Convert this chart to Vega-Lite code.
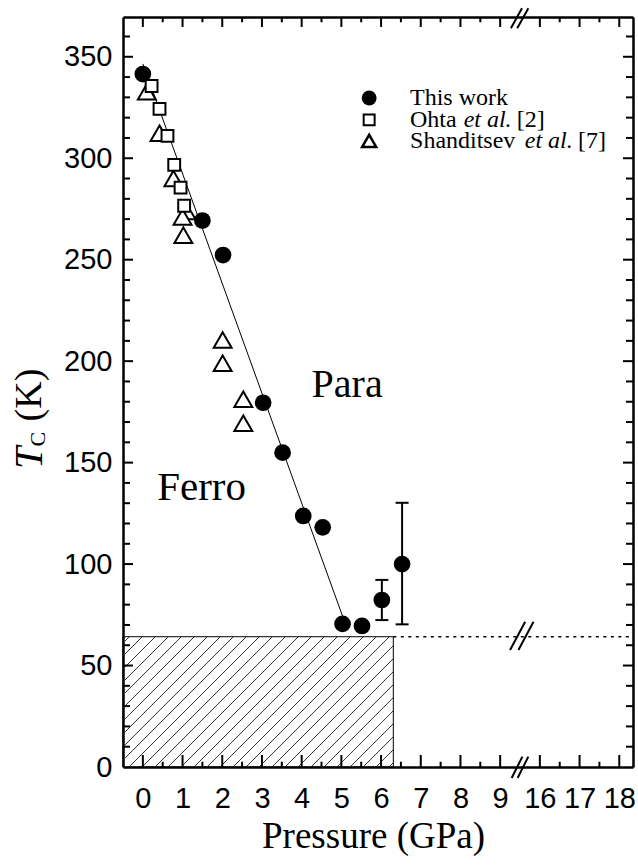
{
 "$schema": "https://vega.github.io/schema/vega-lite/v6.json",
 "width": 510, "height": 750,
 "autosize": {"type": "none"},
 "padding": {"left": 123, "top": 17, "right": 5, "bottom": 100},
 "background": "white",
 "config": {"view": {"stroke": null},
  "axis": {"domainColor": "black", "domainWidth": 2.5, "labelFont": "Liberation Sans", "labelFontSize": 29, "labelColor": "black", "titleColor": "black", "labelFlush": false, "labelOverlap": false}},
 "datasets": {
  "thiswork": [
   {"p": 0.0, "tc": 341.5}, {"p": 1.5, "tc": 269.3}, {"p": 2.02, "tc": 252.3}, {"p": 3.03, "tc": 179.5},
   {"p": 3.52, "tc": 154.9}, {"p": 4.04, "tc": 123.7}, {"p": 4.53, "tc": 118.1}, {"p": 5.03, "tc": 70.5},
   {"p": 5.52, "tc": 69.5}, {"p": 6.02, "tc": 82.3, "lo": 72.4, "hi": 92.2}, {"p": 6.53, "tc": 100.0, "lo": 70.3, "hi": 130.2}],
  "ohta": [
   {"p": 0.22, "tc": 335.6}, {"p": 0.42, "tc": 324.3}, {"p": 0.62, "tc": 311.0}, {"p": 0.79, "tc": 296.7},
   {"p": 0.95, "tc": 285.5}, {"p": 1.04, "tc": 276.6}],
  "shanditsev": [
   {"p": 0.1, "tc": 332.8}, {"p": 0.42, "tc": 312.3}, {"p": 0.77, "tc": 290.0}, {"p": 1.1, "tc": 273.7},
   {"p": 1.0, "tc": 271.0}, {"p": 1.02, "tc": 262.0}, {"p": 2.01, "tc": 210.4}, {"p": 2.01, "tc": 199.0},
   {"p": 2.53, "tc": 181.2}, {"p": 2.53, "tc": 169.4}],
  "xmaj": [{"v": 0}, {"v": 1}, {"v": 2}, {"v": 3}, {"v": 4}, {"v": 5}, {"v": 6}, {"v": 7}, {"v": 8}, {"v": 9}, {"v": 10}, {"v": 11}, {"v": 12}],
  "xmin": [{"v": 0.5}, {"v": 1.5}, {"v": 2.5}, {"v": 3.5}, {"v": 4.5}, {"v": 5.5}, {"v": 6.5}, {"v": 7.5}, {"v": 8.5}, {"v": 10.5}, {"v": 11.5}],
  "ymaj": [{"v": 50}, {"v": 100}, {"v": 150}, {"v": 200}, {"v": 250}, {"v": 300}, {"v": 350}],
  "ymin": [{"v": 10}, {"v": 20}, {"v": 30}, {"v": 40}, {"v": 60}, {"v": 70}, {"v": 80}, {"v": 90}, {"v": 110}, {"v": 120}, {"v": 130}, {"v": 140}, {"v": 160}, {"v": 170}, {"v": 180}, {"v": 190}, {"v": 210}, {"v": 220}, {"v": 230}, {"v": 240}, {"v": 260}, {"v": 270}, {"v": 280}, {"v": 290}, {"v": 310}, {"v": 320}, {"v": 330}, {"v": 340}, {"v": 360}],
  "hatch": [
   {"x1": -0.5, "y1": 61.1, "x2": -0.341, "y2": 64.2}, {"x1": -0.5, "y1": 54.7, "x2": -0.014, "y2": 64.2},
   {"x1": -0.5, "y1": 48.3, "x2": 0.314, "y2": 64.2}, {"x1": -0.5, "y1": 41.9, "x2": 0.641, "y2": 64.2},
   {"x1": -0.5, "y1": 35.5, "x2": 0.969, "y2": 64.2}, {"x1": -0.5, "y1": 29.1, "x2": 1.296, "y2": 64.2},
   {"x1": -0.5, "y1": 22.7, "x2": 1.623, "y2": 64.2}, {"x1": -0.5, "y1": 16.3, "x2": 1.951, "y2": 64.2},
   {"x1": -0.5, "y1": 9.9, "x2": 2.278, "y2": 64.2}, {"x1": -0.5, "y1": 3.4, "x2": 2.606, "y2": 64.2},
   {"x1": -0.349, "y1": 0, "x2": 2.933, "y2": 64.2}, {"x1": -0.021, "y1": 0, "x2": 3.261, "y2": 64.2},
   {"x1": 0.306, "y1": 0, "x2": 3.588, "y2": 64.2}, {"x1": 0.633, "y1": 0, "x2": 3.916, "y2": 64.2},
   {"x1": 0.961, "y1": 0, "x2": 4.243, "y2": 64.2}, {"x1": 1.288, "y1": 0, "x2": 4.571, "y2": 64.2},
   {"x1": 1.616, "y1": 0, "x2": 4.898, "y2": 64.2}, {"x1": 1.943, "y1": 0, "x2": 5.225, "y2": 64.2},
   {"x1": 2.271, "y1": 0, "x2": 5.553, "y2": 64.2}, {"x1": 2.598, "y1": 0, "x2": 5.88, "y2": 64.2},
   {"x1": 2.926, "y1": 0, "x2": 6.208, "y2": 64.2}, {"x1": 3.253, "y1": 0, "x2": 6.309, "y2": 59.8},
   {"x1": 3.581, "y1": 0, "x2": 6.309, "y2": 53.4}, {"x1": 3.908, "y1": 0, "x2": 6.309, "y2": 47.0},
   {"x1": 4.236, "y1": 0, "x2": 6.309, "y2": 40.6}, {"x1": 4.563, "y1": 0, "x2": 6.309, "y2": 34.2},
   {"x1": 4.891, "y1": 0, "x2": 6.309, "y2": 27.7}, {"x1": 5.218, "y1": 0, "x2": 6.309, "y2": 21.3},
   {"x1": 5.546, "y1": 0, "x2": 6.309, "y2": 14.9}, {"x1": 5.873, "y1": 0, "x2": 6.309, "y2": 8.5},
   {"x1": 6.201, "y1": 0, "x2": 6.309, "y2": 2.1}],
  "breaks": [
   {"x1": 9.29, "y1": -5.4, "x2": 9.56, "y2": 5.1}, {"x1": 9.44, "y1": -5.4, "x2": 9.71, "y2": 5.1},
   {"x1": 9.27, "y1": 364.1, "x2": 9.55, "y2": 373.9}, {"x1": 9.43, "y1": 364.1, "x2": 9.71, "y2": 373.9},
   {"x1": 9.25, "y1": 57.7, "x2": 9.63, "y2": 71.6}, {"x1": 9.46, "y1": 57.7, "x2": 9.84, "y2": 71.6}]
 },
 "resolve": {"axis": {"x": "independent", "y": "independent"}},
 "layer": [
  {"data": {"name": "hatch"}, "mark": {"type": "rule", "color": "#333", "strokeWidth": 1},
   "encoding": {
    "x": {"field": "x1", "type": "quantitative", "scale": {"domain": [-0.5, 12.346], "nice": false, "zero": false},
     "axis": {"orient": "bottom", "values": [0,1,2,3,4,5,6,7,8,9,10,11,12], "labelExpr": "datum.value >= 10 ? '' + (datum.value + 6) : datum.label", "ticks": false, "domain": true, "grid": false, "labelPadding": 17, "title": "Pressure (GPa)", "titleFont": "Liberation Serif", "titleFontSize": 37, "titleFontWeight": "normal", "titlePadding": 5, "titleX": 250}},
    "y": {"field": "y1", "type": "quantitative", "scale": {"domain": [0, 369.6], "nice": false, "zero": false},
     "axis": {"orient": "left", "values": [0,50,100,150,200,250,300,350], "ticks": false, "domain": true, "grid": false, "labelPadding": 11, "title": null}},
    "x2": {"field": "x2"}, "y2": {"field": "y2"}}},
  {"data": {"values": [{}]}, "mark": {"type": "rect", "filled": false, "color": "black", "strokeWidth": 1},
   "encoding": {
    "x": {"datum": -0.5, "type": "quantitative", "scale": {"domain": [-0.5, 12.346], "nice": false, "zero": false}, "axis": null},
    "x2": {"datum": 6.309},
    "y": {"datum": 0, "type": "quantitative", "scale": {"domain": [0, 369.6], "nice": false, "zero": false}, "axis": null},
    "y2": {"datum": 64.2}}},
  {"data": {"values": [{}]}, "mark": {"type": "rule", "color": "black", "strokeWidth": 1.5, "strokeDash": [3, 4.5]},
   "encoding": {
    "x": {"datum": 6.309, "type": "quantitative", "scale": {"domain": [-0.5, 12.346], "nice": false, "zero": false}, "axis": null},
    "x2": {"datum": 12.346},
    "y": {"datum": 64.2, "type": "quantitative", "scale": {"domain": [0, 369.6], "nice": false, "zero": false}, "axis": null}}},
  {"data": {"values": [{}]}, "mark": {"type": "rule", "color": "black", "strokeWidth": 1},
   "encoding": {
    "x": {"datum": 0.0, "type": "quantitative", "scale": {"domain": [-0.5, 12.346], "nice": false, "zero": false},
     "axis": {"orient": "top", "ticks": false, "labels": false, "domain": true, "grid": false, "title": null}},
    "x2": {"datum": 5.05},
    "y": {"datum": 346.5, "type": "quantitative", "scale": {"domain": [0, 369.6], "nice": false, "zero": false},
     "axis": {"orient": "right", "ticks": false, "labels": false, "domain": true, "grid": false, "title": null}},
    "y2": {"datum": 73.3}}},
  {"data": {"name": "xmaj"}, "mark": {"type": "rule", "color": "black", "strokeWidth": 2},
   "encoding": {
    "x": {"field": "v", "type": "quantitative", "scale": {"domain": [-0.5, 12.346], "nice": false, "zero": false}, "axis": null},
    "y": {"datum": 0, "type": "quantitative", "scale": {"domain": [0, 369.6], "nice": false, "zero": false}, "axis": null},
    "y2": {"datum": 5.9}}},
  {"data": {"name": "xmaj"}, "mark": {"type": "rule", "color": "black", "strokeWidth": 2},
   "encoding": {
    "x": {"field": "v", "type": "quantitative", "scale": {"domain": [-0.5, 12.346], "nice": false, "zero": false}, "axis": null},
    "y": {"datum": 369.6, "type": "quantitative", "scale": {"domain": [0, 369.6], "nice": false, "zero": false}, "axis": null},
    "y2": {"datum": 364.7}}},
  {"data": {"name": "xmin"}, "mark": {"type": "rule", "color": "black", "strokeWidth": 2},
   "encoding": {
    "x": {"field": "v", "type": "quantitative", "scale": {"domain": [-0.5, 12.346], "nice": false, "zero": false}, "axis": null},
    "y": {"datum": 0, "type": "quantitative", "scale": {"domain": [0, 369.6], "nice": false, "zero": false}, "axis": null},
    "y2": {"datum": 2.6}}},
  {"data": {"name": "xmin"}, "mark": {"type": "rule", "color": "black", "strokeWidth": 2},
   "encoding": {
    "x": {"field": "v", "type": "quantitative", "scale": {"domain": [-0.5, 12.346], "nice": false, "zero": false}, "axis": null},
    "y": {"datum": 369.6, "type": "quantitative", "scale": {"domain": [0, 369.6], "nice": false, "zero": false}, "axis": null},
    "y2": {"datum": 367.0}}},
  {"data": {"name": "ymaj"}, "mark": {"type": "rule", "color": "black", "strokeWidth": 2},
   "encoding": {
    "y": {"field": "v", "type": "quantitative", "scale": {"domain": [0, 369.6], "nice": false, "zero": false}, "axis": null},
    "x": {"datum": -0.5, "type": "quantitative", "scale": {"domain": [-0.5, 12.346], "nice": false, "zero": false}, "axis": null},
    "x2": {"datum": -0.248}}},
  {"data": {"name": "ymaj"}, "mark": {"type": "rule", "color": "black", "strokeWidth": 2},
   "encoding": {
    "y": {"field": "v", "type": "quantitative", "scale": {"domain": [0, 369.6], "nice": false, "zero": false}, "axis": null},
    "x": {"datum": 12.346, "type": "quantitative", "scale": {"domain": [-0.5, 12.346], "nice": false, "zero": false}, "axis": null},
    "x2": {"datum": 12.094}}},
  {"data": {"name": "ymin"}, "mark": {"type": "rule", "color": "black", "strokeWidth": 2},
   "encoding": {
    "y": {"field": "v", "type": "quantitative", "scale": {"domain": [0, 369.6], "nice": false, "zero": false}, "axis": null},
    "x": {"datum": -0.5, "type": "quantitative", "scale": {"domain": [-0.5, 12.346], "nice": false, "zero": false}, "axis": null},
    "x2": {"datum": -0.324}}},
  {"data": {"name": "ymin"}, "mark": {"type": "rule", "color": "black", "strokeWidth": 2},
   "encoding": {
    "y": {"field": "v", "type": "quantitative", "scale": {"domain": [0, 369.6], "nice": false, "zero": false}, "axis": null},
    "x": {"datum": 12.346, "type": "quantitative", "scale": {"domain": [-0.5, 12.346], "nice": false, "zero": false}, "axis": null},
    "x2": {"datum": 12.17}}},
  {"data": {"name": "breaks"}, "mark": {"type": "rule", "color": "black", "strokeWidth": 2},
   "encoding": {
    "x": {"field": "x1", "type": "quantitative", "scale": {"domain": [-0.5, 12.346], "nice": false, "zero": false}, "axis": null},
    "y": {"field": "y1", "type": "quantitative", "scale": {"domain": [0, 369.6], "nice": false, "zero": false}, "axis": null},
    "x2": {"field": "x2"}, "y2": {"field": "y2"}}},
  {"data": {"name": "shanditsev"}, "mark": {"type": "point", "shape": "triangle-up", "filled": true, "fill": "white", "stroke": "black", "strokeWidth": 2, "size": 320, "opacity": 1},
   "encoding": {
    "x": {"field": "p", "type": "quantitative", "scale": {"domain": [-0.5, 12.346], "nice": false, "zero": false}, "axis": null},
    "y": {"field": "tc", "type": "quantitative", "scale": {"domain": [0, 369.6], "nice": false, "zero": false}, "axis": null}}},
  {"data": {"name": "ohta"}, "mark": {"type": "point", "shape": "square", "filled": true, "fill": "white", "stroke": "black", "strokeWidth": 2, "size": 140, "opacity": 1},
   "encoding": {
    "x": {"field": "p", "type": "quantitative", "scale": {"domain": [-0.5, 12.346], "nice": false, "zero": false}, "axis": null},
    "y": {"field": "tc", "type": "quantitative", "scale": {"domain": [0, 369.6], "nice": false, "zero": false}, "axis": null}}},
  {"data": {"name": "thiswork"}, "transform": [{"filter": "datum.hi != null"}],
   "mark": {"type": "rule", "color": "black", "strokeWidth": 2},
   "encoding": {
    "x": {"field": "p", "type": "quantitative", "scale": {"domain": [-0.5, 12.346], "nice": false, "zero": false}, "axis": null},
    "y": {"field": "lo", "type": "quantitative", "scale": {"domain": [0, 369.6], "nice": false, "zero": false}, "axis": null},
    "y2": {"field": "hi"}}},
  {"data": {"name": "thiswork"}, "transform": [{"filter": "datum.hi != null"}],
   "mark": {"type": "point", "shape": "M-1,0L1,0", "filled": false, "color": "black", "strokeWidth": 2, "size": 169, "opacity": 1},
   "encoding": {
    "x": {"field": "p", "type": "quantitative", "scale": {"domain": [-0.5, 12.346], "nice": false, "zero": false}, "axis": null},
    "y": {"field": "lo", "type": "quantitative", "scale": {"domain": [0, 369.6], "nice": false, "zero": false}, "axis": null}}},
  {"data": {"name": "thiswork"}, "transform": [{"filter": "datum.hi != null"}],
   "mark": {"type": "point", "shape": "M-1,0L1,0", "filled": false, "color": "black", "strokeWidth": 2, "size": 169, "opacity": 1},
   "encoding": {
    "x": {"field": "p", "type": "quantitative", "scale": {"domain": [-0.5, 12.346], "nice": false, "zero": false}, "axis": null},
    "y": {"field": "hi", "type": "quantitative", "scale": {"domain": [0, 369.6], "nice": false, "zero": false}, "axis": null}}},
  {"data": {"name": "thiswork"}, "mark": {"type": "point", "shape": "circle", "filled": true, "color": "black", "size": 280, "opacity": 1},
   "encoding": {
    "x": {"field": "p", "type": "quantitative", "scale": {"domain": [-0.5, 12.346], "nice": false, "zero": false}, "axis": null},
    "y": {"field": "tc", "type": "quantitative", "scale": {"domain": [0, 369.6], "nice": false, "zero": false}, "axis": null}}},
  {"data": {"values": [{}]}, "mark": {"type": "point", "shape": "circle", "filled": true, "color": "black", "size": 220, "opacity": 1},
   "encoding": {
    "x": {"datum": 5.70, "type": "quantitative", "scale": {"domain": [-0.5, 12.346], "nice": false, "zero": false}, "axis": null},
    "y": {"datum": 329.7, "type": "quantitative", "scale": {"domain": [0, 369.6], "nice": false, "zero": false}, "axis": null}}},
  {"data": {"values": [{}]}, "mark": {"type": "point", "shape": "square", "filled": true, "fill": "white", "stroke": "black", "strokeWidth": 2, "size": 120, "opacity": 1},
   "encoding": {
    "x": {"datum": 5.70, "type": "quantitative", "scale": {"domain": [-0.5, 12.346], "nice": false, "zero": false}, "axis": null},
    "y": {"datum": 318.9, "type": "quantitative", "scale": {"domain": [0, 369.6], "nice": false, "zero": false}, "axis": null}}},
  {"data": {"values": [{}]}, "mark": {"type": "point", "shape": "triangle-up", "filled": true, "fill": "white", "stroke": "black", "strokeWidth": 2.5, "size": 200, "opacity": 1},
   "encoding": {
    "x": {"datum": 5.70, "type": "quantitative", "scale": {"domain": [-0.5, 12.346], "nice": false, "zero": false}, "axis": null},
    "y": {"datum": 308.5, "type": "quantitative", "scale": {"domain": [0, 369.6], "nice": false, "zero": false}, "axis": null}}},
  {"data": {"values": [{}]}, "mark": {"type": "text", "text": "This work", "font": "Liberation Serif", "fontSize": 24, "align": "left", "baseline": "alphabetic", "color": "black"},
   "encoding": {
    "x": {"datum": 6.73, "type": "quantitative", "scale": {"domain": [-0.5, 12.346], "nice": false, "zero": false}, "axis": null},
    "y": {"datum": 326.3, "type": "quantitative", "scale": {"domain": [0, 369.6], "nice": false, "zero": false}, "axis": null}}},
  {"data": {"values": [{}]}, "mark": {"type": "text", "text": "Ohta", "font": "Liberation Serif", "fontSize": 24, "align": "left", "baseline": "alphabetic", "color": "black"},
   "encoding": {
    "x": {"datum": 6.73, "type": "quantitative", "scale": {"domain": [-0.5, 12.346], "nice": false, "zero": false}, "axis": null},
    "y": {"datum": 315.6, "type": "quantitative", "scale": {"domain": [0, 369.6], "nice": false, "zero": false}, "axis": null}}},
  {"data": {"values": [{}]}, "mark": {"type": "text", "text": "et al.", "font": "Liberation Serif", "fontStyle": "italic", "fontSize": 24, "align": "left", "baseline": "alphabetic", "color": "black"},
   "encoding": {
    "x": {"datum": 8.08, "type": "quantitative", "scale": {"domain": [-0.5, 12.346], "nice": false, "zero": false}, "axis": null},
    "y": {"datum": 315.6, "type": "quantitative", "scale": {"domain": [0, 369.6], "nice": false, "zero": false}, "axis": null}}},
  {"data": {"values": [{}]}, "mark": {"type": "text", "text": "[2]", "font": "Liberation Serif", "fontSize": 24, "align": "left", "baseline": "alphabetic", "color": "black"},
   "encoding": {
    "x": {"datum": 9.42, "type": "quantitative", "scale": {"domain": [-0.5, 12.346], "nice": false, "zero": false}, "axis": null},
    "y": {"datum": 315.6, "type": "quantitative", "scale": {"domain": [0, 369.6], "nice": false, "zero": false}, "axis": null}}},
  {"data": {"values": [{}]}, "mark": {"type": "text", "text": "Shanditsev", "font": "Liberation Serif", "fontSize": 24, "align": "left", "baseline": "alphabetic", "color": "black"},
   "encoding": {
    "x": {"datum": 6.73, "type": "quantitative", "scale": {"domain": [-0.5, 12.346], "nice": false, "zero": false}, "axis": null},
    "y": {"datum": 305.2, "type": "quantitative", "scale": {"domain": [0, 369.6], "nice": false, "zero": false}, "axis": null}}},
  {"data": {"values": [{}]}, "mark": {"type": "text", "text": "et al.", "font": "Liberation Serif", "fontStyle": "italic", "fontSize": 24, "align": "left", "baseline": "alphabetic", "color": "black"},
   "encoding": {
    "x": {"datum": 9.62, "type": "quantitative", "scale": {"domain": [-0.5, 12.346], "nice": false, "zero": false}, "axis": null},
    "y": {"datum": 305.2, "type": "quantitative", "scale": {"domain": [0, 369.6], "nice": false, "zero": false}, "axis": null}}},
  {"data": {"values": [{}]}, "mark": {"type": "text", "text": "[7]", "font": "Liberation Serif", "fontSize": 24, "align": "left", "baseline": "alphabetic", "color": "black"},
   "encoding": {
    "x": {"datum": 10.96, "type": "quantitative", "scale": {"domain": [-0.5, 12.346], "nice": false, "zero": false}, "axis": null},
    "y": {"datum": 305.2, "type": "quantitative", "scale": {"domain": [0, 369.6], "nice": false, "zero": false}, "axis": null}}},
  {"data": {"values": [{}]}, "mark": {"type": "text", "text": "Para", "font": "Liberation Serif", "fontSize": 40, "align": "left", "baseline": "alphabetic", "color": "black"},
   "encoding": {
    "x": {"datum": 4.25, "type": "quantitative", "scale": {"domain": [-0.5, 12.346], "nice": false, "zero": false}, "axis": null},
    "y": {"datum": 182.4, "type": "quantitative", "scale": {"domain": [0, 369.6], "nice": false, "zero": false}, "axis": null}}},
  {"data": {"values": [{}]}, "mark": {"type": "text", "text": "Ferro", "font": "Liberation Serif", "fontSize": 41, "align": "left", "baseline": "alphabetic", "color": "black"},
   "encoding": {
    "x": {"datum": 0.36, "type": "quantitative", "scale": {"domain": [-0.5, 12.346], "nice": false, "zero": false}, "axis": null},
    "y": {"datum": 131.6, "type": "quantitative", "scale": {"domain": [0, 369.6], "nice": false, "zero": false}, "axis": null}}},
  {"data": {"values": [{}]}, "mark": {"type": "text", "text": "T", "font": "Liberation Serif", "fontStyle": "italic", "fontSize": 40, "angle": 270, "align": "center", "baseline": "middle", "color": "black"},
   "encoding": {
    "x": {"datum": -2.843, "type": "quantitative", "scale": {"domain": [-0.5, 12.346], "nice": false, "zero": false}, "axis": null},
    "y": {"datum": 152.3, "type": "quantitative", "scale": {"domain": [0, 369.6], "nice": false, "zero": false}, "axis": null}}},
  {"data": {"values": [{}]}, "mark": {"type": "text", "text": "C", "font": "Liberation Serif", "fontSize": 22, "angle": 270, "align": "center", "baseline": "middle", "color": "black"},
   "encoding": {
    "x": {"datum": -2.64, "type": "quantitative", "scale": {"domain": [-0.5, 12.346], "nice": false, "zero": false}, "axis": null},
    "y": {"datum": 161.5, "type": "quantitative", "scale": {"domain": [0, 369.6], "nice": false, "zero": false}, "axis": null}}},
  {"data": {"values": [{}]}, "mark": {"type": "text", "text": "(K)", "font": "Liberation Serif", "fontSize": 38, "angle": 270, "align": "center", "baseline": "middle", "color": "black"},
   "encoding": {
    "x": {"datum": -2.843, "type": "quantitative", "scale": {"domain": [-0.5, 12.346], "nice": false, "zero": false}, "axis": null},
    "y": {"datum": 183.3, "type": "quantitative", "scale": {"domain": [0, 369.6], "nice": false, "zero": false}, "axis": null}}}
 ]
}
